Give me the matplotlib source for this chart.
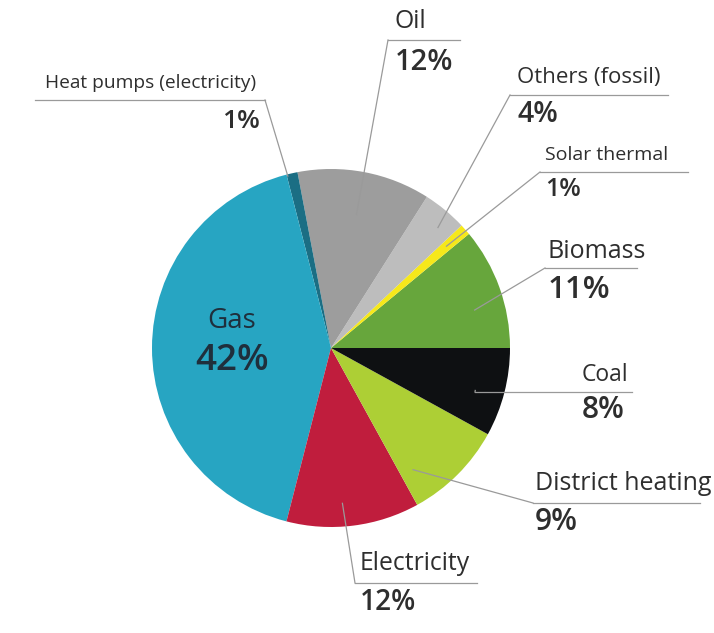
import matplotlib.pyplot as plt
import numpy as np

# shares of heat supply, going round the pie from 3 o'clock anticlockwise
sources = ['Biomass', 'Solar thermal', 'Others (fossil)', 'Oil', 'Heat pumps (electricity)',
           'Gas', 'Electricity', 'District heating', 'Coal']
shares = [11, 1, 4, 12, 1, 42, 12, 9, 8]
pct_labels = ['11%', '1%', '4%', '12%', '1%', '42%', '12%', '9%', '8%']
colors = ['#67a63c', '#f6e81b', '#bdbdbd', '#9d9d9d', '#1b6e84',
          '#27a5c2', '#c01d3d', '#adcf35', '#0e1012']

plt.rcParams['font.family'] = ['Open Sans', 'DejaVu Sans']
TXT = '#2e2e2e'
LINE = '#9a9a9a'

fig = plt.figure(figsize=(7.14, 6.33), dpi=100)
ax = fig.add_axes([0, 0, 1, 1])

cx, cy, R = 331, 348, 179
wedges, _ = ax.pie(shares, colors=colors, startangle=0, counterclock=False,
                   center=(cx, cy), radius=R, frame=True,
                   wedgeprops=dict(linewidth=0))
ax.set_xlim(0, 714)
ax.set_ylim(633, 0)
ax.set_aspect('equal')
ax.axis('off')

# label layout: name pos, pct pos, underline (x0, x1, y), leader start, angle offset, radius frac, sizes, align
layout = {
    'Heat pumps (electricity)': dict(name=(45, 83), pct=(260, 122), line=(35, 265, 100), lead=(265, 100),
                                     off=1.5, rf=0.99, fs=13.8, pfs=19, ha='left', pha='right'),
    'Oil': dict(name=(395, 22), pct=(395, 63), line=(388, 460, 40), lead=(388, 40),
                off=0, rf=0.76, fs=17.8, pfs=21, ha='left', pha='left'),
    'Others (fossil)': dict(name=(517, 77), pct=(517, 115), line=(510, 668, 95), lead=(510, 95),
                            off=-2, rf=0.9, fs=16, pfs=20.5, ha='left', pha='left'),
    'Solar thermal': dict(name=(545, 155), pct=(545, 190), line=(540, 688, 172), lead=(540, 172),
                          off=0, rf=0.86, fs=14, pfs=18, ha='left', pha='left'),
    'Biomass': dict(name=(548, 252), pct=(548, 290), line=(545, 637, 268), lead=(545, 268),
                    off=-5, rf=0.83, fs=18, pfs=22.5, ha='left', pha='left'),
    'Coal': dict(name=(628, 375), pct=(625, 410), line=(475, 632, 392), lead=(475, 392),
                 off=-2, rf=0.84, fs=16.5, pfs=21.5, ha='right', pha='right'),
    'District heating': dict(name=(535, 483), pct=(535, 522), line=(533, 700, 503), lead=(533, 503),
                             off=-11, rf=0.82, fs=18, pfs=21.5, ha='left', pha='left'),
    'Electricity': dict(name=(360, 563), pct=(360, 603), line=(355, 477, 583), lead=(355, 583),
                        off=-3, rf=0.87, fs=17.8, pfs=20.2, ha='left', pha='left'),
}

for w, src, pct in zip(wedges, sources, pct_labels):
    if src not in layout:
        continue
    L = layout[src]
    # wedge angles are in data space (y down), so flip for the on-screen angle
    mid = -(w.theta1 + w.theta2) / 2 + L['off']
    px = cx + L['rf'] * R * np.cos(np.radians(mid))
    py = cy - L['rf'] * R * np.sin(np.radians(mid))
    x0, x1, ly = L['line']
    ax.plot([x0, x1], [ly, ly], color=LINE, lw=0.9)
    ax.plot([L['lead'][0], px], [L['lead'][1], py], color=LINE, lw=0.9)
    ax.text(L['name'][0], L['name'][1], src, fontsize=L['fs'], color=TXT,
            ha=L['ha'], va='center')
    ax.text(L['pct'][0], L['pct'][1], pct, fontsize=L['pfs'], color=TXT,
            ha=L['pha'], va='center', fontweight='semibold')

# Gas is labelled inside its slice
gi = sources.index('Gas')
ax.text(232, 321, 'Gas', fontsize=20, color='#1f2f3c', ha='center', va='center')
ax.text(232, 361, pct_labels[gi], fontsize=26.5, color='#1f2f3c', ha='center', va='center',
        fontweight='semibold')

fig.savefig('out.png', dpi=100, facecolor='white')
